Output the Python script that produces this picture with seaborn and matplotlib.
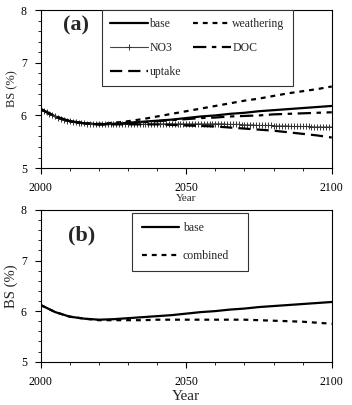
import numpy as np
import pandas as pd
import matplotlib
matplotlib.use('Agg')
import matplotlib.pyplot as plt
from matplotlib.ticker import MultipleLocator
import seaborn as sns

# 5-year steps
years = list(range(2000, 2101, 5))
base = [6.12, 5.98, 5.89, 5.85, 5.83, 5.84, 5.86, 5.88, 5.90, 5.92, 5.95,
        5.98, 6.00, 6.03, 6.05, 6.08, 6.10, 6.12, 6.14, 6.16, 6.18]
weathering = [6.12, 5.98, 5.89, 5.85, 5.84, 5.86, 5.89, 5.93, 5.98, 6.03, 6.08,
              6.13, 6.18, 6.23, 6.28, 6.32, 6.37, 6.42, 6.46, 6.50, 6.55]
doc = [6.12, 5.98, 5.89, 5.85, 5.83, 5.84, 5.85, 5.87, 5.89, 5.91, 5.93,
       5.95, 5.96, 5.98, 5.99, 6.00, 6.02, 6.03, 6.04, 6.05, 6.06]
uptake = [6.12, 5.98, 5.89, 5.85, 5.83, 5.83, 5.83, 5.83, 5.83, 5.82, 5.81,
          5.80, 5.79, 5.77, 5.75, 5.73, 5.71, 5.68, 5.65, 5.62, 5.58]
combined = [6.12, 5.98, 5.89, 5.85, 5.82, 5.82, 5.82, 5.82, 5.83, 5.83, 5.83,
            5.83, 5.83, 5.83, 5.83, 5.82, 5.81, 5.80, 5.79, 5.77, 5.75]

# NO3 run is yearly (markers on every year)
years_no3 = list(range(2000, 2101))
no3 = [6.12, 6.09, 6.06, 6.03, 6.00, 5.98, 5.96, 5.94, 5.92, 5.90,
       5.89, 5.88, 5.87, 5.86, 5.85, 5.85, 5.84, 5.84, 5.84, 5.83,
       5.83, 5.83, 5.83, 5.83, 5.83, 5.83, 5.83, 5.83, 5.83, 5.83,
       5.83, 5.83, 5.83, 5.83, 5.83, 5.83, 5.83, 5.83, 5.83, 5.83,
       5.83, 5.84, 5.84, 5.84, 5.84, 5.84, 5.84, 5.84, 5.84, 5.84,
       5.84, 5.84, 5.84, 5.84, 5.84, 5.84, 5.84, 5.84, 5.84, 5.84,
       5.84, 5.84, 5.84, 5.84, 5.83, 5.83, 5.83, 5.83, 5.83, 5.82,
       5.82, 5.82, 5.82, 5.82, 5.81, 5.81, 5.81, 5.81, 5.81, 5.81,
       5.80, 5.80, 5.80, 5.80, 5.80, 5.80, 5.79, 5.79, 5.79, 5.79,
       5.79, 5.79, 5.79, 5.78, 5.78, 5.78, 5.78, 5.78, 5.78, 5.78,
       5.78]

sns.set_style('ticks')
plt.rcParams['font.family'] = ['Liberation Serif', 'DejaVu Serif']

fig = plt.figure(figsize=(3.52, 4.05), dpi=100)
ax_a = fig.add_axes([0.1156, 0.585, 0.827, 0.390])
ax_b = fig.add_axes([0.1156, 0.107, 0.827, 0.3746])

dotted = (0, (2.2, 2.2))

# panel (a)
sns.lineplot(x=years, y=base, ax=ax_a, color='black', lw=1.6, label='base')
sns.lineplot(x=years, y=weathering, ax=ax_a, color='black', lw=1.6,
             label='weathering', linestyle=dotted)
sns.lineplot(x=years_no3, y=no3, ax=ax_a, color='#444444', lw=0.8,
             marker='+', markersize=5, markeredgewidth=0.7,
             markeredgecolor='#333333', label='NO3')
sns.lineplot(x=years, y=doc, ax=ax_a, color='black', lw=1.6,
             label='DOC', linestyle=(0, (6, 2.5, 2, 2.5)))
sns.lineplot(x=years, y=uptake, ax=ax_a, color='black', lw=1.6,
             label='uptake', linestyle=(0, (5.5, 2.7)))

# panel (b)
sns.lineplot(x=years, y=base, ax=ax_b, color='black', lw=1.6, label='base')
sns.lineplot(x=years, y=combined, ax=ax_b, color='black', lw=1.6,
             label='combined', linestyle=dotted)

for ax in (ax_a, ax_b):
    ax.set_xlim(2000, 2100)
    ax.set_ylim(5, 8)
    ax.xaxis.set_major_locator(MultipleLocator(50))
    ax.xaxis.set_minor_locator(MultipleLocator(10))
    ax.yaxis.set_major_locator(MultipleLocator(1))
    ax.yaxis.set_minor_locator(MultipleLocator(0.2))
    ax.tick_params(which='major', direction='out', length=4, width=0.8,
                   labelsize=8.5, pad=6, colors='black')
    ax.tick_params(which='minor', direction='out', length=2.5, width=0.7)
    for s in ax.spines.values():
        s.set_color('black')
        s.set_linewidth(0.8)

ax_a.set_ylabel('BS (%)', fontsize=9, labelpad=2)
ax_b.set_ylabel('BS (%)', fontsize=10.5, labelpad=2)
ax_a.set_xlabel('Year', fontsize=8, labelpad=0)
ax_b.set_xlabel('Year', fontsize=11, labelpad=2)

ax_a.text(0.12, 0.90, '(a)', transform=ax_a.transAxes, fontsize=16,
          fontweight='bold', ha='center', va='center')
ax_b.text(0.14, 0.83, '(b)', transform=ax_b.transAxes, fontsize=16,
          fontweight='bold', ha='center', va='center')

# legends: reorder (a) to base, NO3, uptake | weathering, DOC
h, l = ax_a.get_legend_handles_labels()
order = [0, 2, 4, 1, 3]
leg_a = ax_a.legend([h[i] for i in order], [l[i] for i in order], ncol=2,
                    loc='upper left', bbox_to_anchor=(0.211, 0.532, 0.655, 0.468),
                    mode='expand', borderaxespad=0, fontsize=8.5,
                    handlelength=3.2, handletextpad=0.1, labelspacing=1.0,
                    borderpad=0.7, fancybox=False, framealpha=1,
                    edgecolor='#333333')
leg_a.get_frame().set_linewidth(0.8)

leg_b = ax_b.legend(loc='upper left', bbox_to_anchor=(0.314, 0.611, 0.398, 0.369),
                    mode='expand', borderaxespad=0, fontsize=8.5,
                    handlelength=3.2, handletextpad=0.3, labelspacing=1.3,
                    borderpad=0.8, fancybox=False, framealpha=1,
                    edgecolor='#333333')
leg_b.get_frame().set_linewidth(0.8)

fig.savefig('out.png', dpi=100)
